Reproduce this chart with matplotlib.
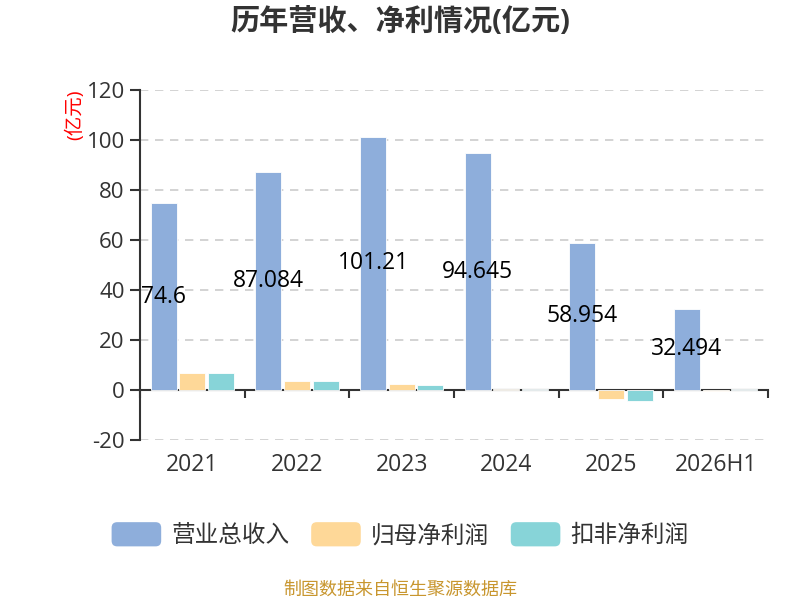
import matplotlib
matplotlib.use('Agg')
import matplotlib.pyplot as plt
from matplotlib.patches import Patch, FancyBboxPatch
from matplotlib.legend_handler import HandlerPatch

plt.rcParams['font.family'] = ['Open Sans', 'Noto Sans CJK SC', 'DejaVu Sans']
plt.rcParams['axes.unicode_minus'] = False

# data
years = ['2021', '2022', '2023', '2024', '2025', '2026H1']
revenue = [74.6, 87.084, 101.21, 94.645, 58.954, 32.494]
parentProfit = [6.9, 3.7, 2.5, 0.4, -3.6, -0.4]
deductedProfit = [6.7, 3.5, 2.0, 0.3, -4.4, 0.4]
seriesNames = ['营业总收入', '归母净利润', '扣非净利润']
colors = ['#8eaedb', '#fed898', '#87d4d8']


def roundPatch(legend, orig_handle, xdescent, ydescent, width, height, fontsize):
    return FancyBboxPatch((-xdescent, -ydescent), width, height,
                          boxstyle='round,pad=0,rounding_size=4')


fig = plt.figure(figsize=(8, 6), dpi=100)
ax = fig.add_axes([0.175, 0.2667, 0.785, 0.5833])

x = list(range(len(years)))
step = 0.274
w = 0.25
allSeries = [revenue, parentProfit, deductedProfit]
for j, vals in enumerate(allSeries):
    xs = [i + (j - 1) * step for i in x]
    ax.bar(xs, vals, width=w, color=colors[j], edgecolor='#ffffff', linewidth=0.6,
           zorder=3, label=seriesNames[j])

# value labels in the middle of revenue bars
for i, v in enumerate(revenue):
    ax.text(i - step, v / 2, str(v), ha='center', va='center', fontsize=16.5,
            color='black', zorder=5)

ax.set_xlim(-0.5, len(years) - 0.5)
ax.set_ylim(-20, 120)
ax.set_yticks(range(-20, 121, 20))
ax.tick_params(axis='y', direction='out', length=7, width=1.5, color='#333333',
               labelsize=16, labelcolor='#333333', pad=4)

# x axis through zero
ax.spines['bottom'].set_position(('data', 0))
ax.spines['bottom'].set_color('#333333')
ax.spines['bottom'].set_linewidth(1.5)
ax.spines['left'].set_color('#333333')
ax.spines['left'].set_linewidth(1.5)
ax.spines['top'].set_visible(False)
ax.spines['right'].set_visible(False)
ax.set_xticks([i - 0.5 for i in range(len(years) + 1)])
ax.set_xticklabels([])
ax.tick_params(axis='x', direction='out', length=6, width=1.5, color='#333333')
for i, yr in enumerate(years):
    ax.text(i, -30, yr, ha='center', va='center', fontsize=16.5, color='#333333',
            clip_on=False)

ax.yaxis.grid(True, linestyle=(0, (5, 4)), color='#cccccc', linewidth=1.2, zorder=0)
ax.set_axisbelow(True)

fig.text(0.5, 0.962, '历年营收、净利情况(亿元)', ha='center', va='center',
         fontsize=21, fontweight='bold', color='#333333')
fig.text(75 / 800, 1 - 115 / 600, '(亿元)', rotation=90, ha='center', va='center',
         fontsize=14, color='red')

handles = [Patch(facecolor=c, edgecolor='none') for c in colors]
fig.legend(handles, seriesNames, loc='center', bbox_to_anchor=(0.5, 0.108), ncol=3,
           frameon=False, fontsize=17, handlelength=2.1, handleheight=1.2,
           handletextpad=0.42, columnspacing=0.93, labelcolor='#333333',
           handler_map={Patch: HandlerPatch(patch_func=roundPatch)})

fig.text(0.5, 0.0167, '制图数据来自恒生聚源数据库', ha='center', va='center',
         fontsize=13, color='#c8962e')

fig.savefig('out.png', dpi=100)
